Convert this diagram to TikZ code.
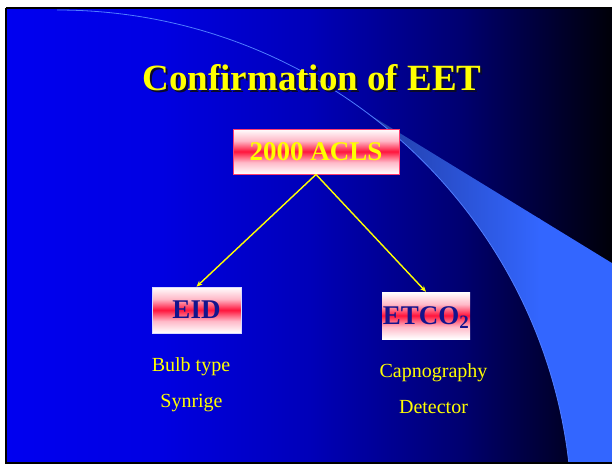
\documentclass[tikz,border=0pt]{standalone}
\usepackage{fontspec}
\setmainfont{Liberation Serif}
\usetikzlibrary{arrows.meta}

% slide palette
\definecolor{bgA}{RGB}{0,0,240}
\definecolor{bgB}{RGB}{0,0,226}
\definecolor{bgC}{RGB}{0,0,185}
\definecolor{bgD}{RGB}{0,0,112}
\definecolor{bgE}{RGB}{0,0,8}
\definecolor{bandred}{RGB}{255,20,60}
\definecolor{bandpink}{RGB}{255,185,200}
\definecolor{swooshdark}{RGB}{32,58,160}
\definecolor{swooshlight}{RGB}{51,102,255}
\definecolor{arcline}{RGB}{80,125,255}
\definecolor{navytext}{RGB}{20,20,140}
\definecolor{aclsedge}{RGB}{255,60,110}
\definecolor{headyellow}{RGB}{255,255,0}
\definecolor{headshadow}{RGB}{10,10,40}

% horizontal blue-to-black background
\pgfdeclarehorizontalshading{slidebg}{100bp}{color(0bp)=(bgA); color(25bp)=(bgA); color(37.5bp)=(bgB); color(50bp)=(bgC); color(62.5bp)=(bgD); color(75bp)=(bgE); color(100bp)=(bgE)}
% white / red band / white fill of the boxes
\pgfdeclareverticalshading{boxband}{100bp}{color(0bp)=(white); color(25bp)=(white); color(38bp)=(bandpink); color(50bp)=(bandred); color(62bp)=(bandpink); color(75bp)=(white); color(100bp)=(white)}

% text with a dark drop shadow behind it
\newcommand{\shadowed}[1]{\makebox[0pt][l]{\hspace{2pt}\raisebox{-2pt}{\textcolor{headshadow}{#1}}}#1}

\begin{document}
\begin{tikzpicture}[x=1pt,y=-1pt,
  band/.style={shading=boxband, inner sep=0pt, text depth=0pt,
    font=\fontsize{27}{30}\selectfont\bfseries},
  note/.style={anchor=base, inner sep=0pt, text=headyellow,
    font=\fontsize{20}{22}\selectfont},
  heading/.style={anchor=base, inner sep=0pt,
    font=\fontsize{37}{40}\selectfont\bfseries},
  link/.style={draw=headyellow, line width=1.4pt,
    -{Stealth[length=6pt,width=5pt]}}
]
\useasboundingbox (0,0) rectangle (612,464);
\fill[white] (0,0) rectangle (612,464);

% slide background
\shade[shading=slidebg] (6,8) rectangle (612,463);

% light swoosh on the right
\begin{scope}
  \clip (6,8) rectangle (612,463);
  \begin{scope}
    \clip (57,10) .. controls (341,10) and (572,238) .. (572,520)
          -- (700,520) -- (700,0) -- (57,0) -- cycle;
    \clip (300,72) -- (700,317) -- (700,600) -- (300,600) -- cycle;
    \shade[left color=swooshdark, right color=swooshlight] (360,100) rectangle (540,464);
    \fill[swooshlight] (539,100) rectangle (612,464);
  \end{scope}
  \draw[arcline, line width=0.8pt] (57,10) .. controls (341,10) and (572,238) .. (572,520);
\end{scope}

% slide frame
\draw[black, line width=1.6pt] (6,8.2) -- (6,463) -- (612,463);
\draw[black, line width=1.6pt] (6,8.2) -- (612,8.2);

% heading
\node[heading, text=headyellow] (head) at (312,90) {\shadowed{Confirmation of EET}};

% boxes
\node[band, draw=aclsedge, line width=0.9pt, minimum width=166pt,
      minimum height=45pt, text=headyellow] (acls) at (316,151.5) {2000 ACLS};
\node[band, draw=white!85!blue, line width=0.6pt, minimum width=89pt,
      minimum height=46pt, text=navytext] (eid) at (196.5,310) {EID};
\node[band, minimum width=88pt, minimum height=47pt,
      text=navytext] (etco) at (426,315.5) {ETCO\textsubscript{2}};

% connectors
\draw[link] (acls.south) -- (eid.north);
\draw[link] (acls.south) -- (etco.north);

% notes under the boxes
\node[note] (bulb) at (191,371) {Bulb type};
\node[note] (syr) at (191.5,407) {Synrige};
\node[note] (capno) at (433.5,377) {Capnography};
\node[note] (det) at (433.5,413) {Detector};
\end{tikzpicture}
\end{document}
